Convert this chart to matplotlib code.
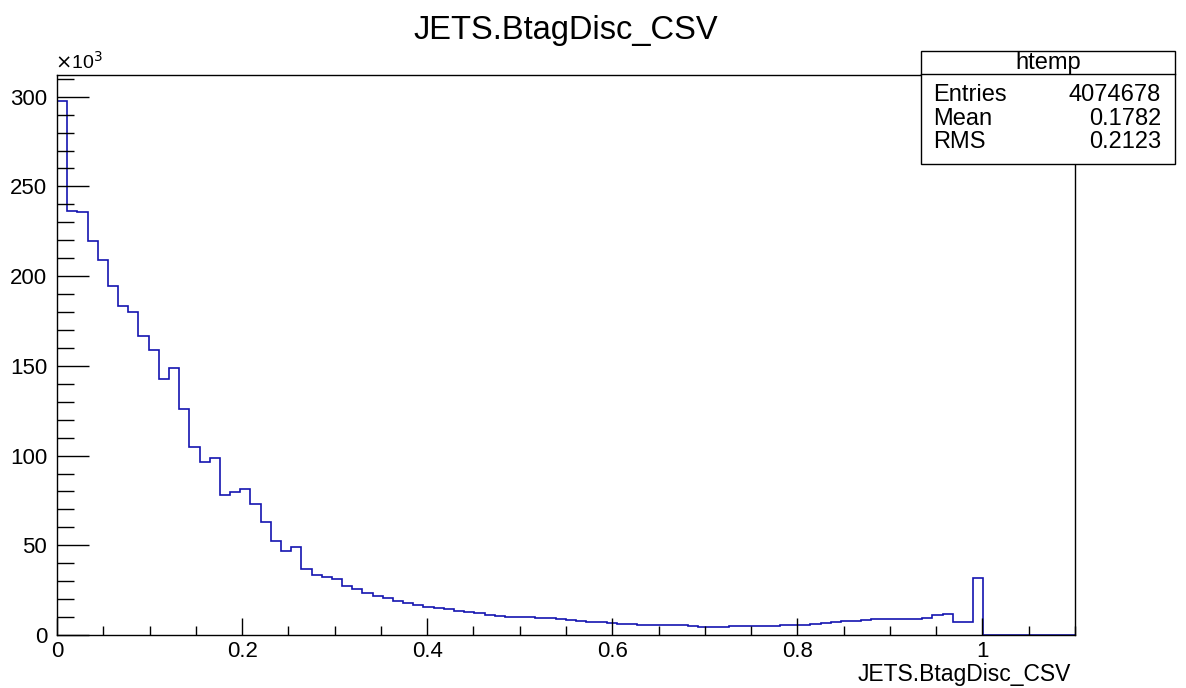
import matplotlib.pyplot as plt
import matplotlib.patches as mpatches
from matplotlib.ticker import MultipleLocator
import numpy as np

plt.rcParams['font.family'] = ['Liberation Sans', 'DejaVu Sans']

# histogram htemp: 100 bins from 0 to 1.1, counts in thousands
x_min, x_max, n_bins = 0.0, 1.1, 100
counts = [
    297.8, 236.3, 235.6, 219.6, 208.9, 194.4, 183.2, 179.9, 166.6, 158.8,
    142.5, 148.6, 125.7, 105.0, 96.5, 98.9, 78.2, 79.7, 81.4, 72.8,
    62.7, 52.5, 46.9, 49.0, 36.9, 33.5, 32.6, 31.3, 27.4, 25.7,
    23.5, 21.8, 20.7, 19.0, 17.9, 16.8, 15.6, 15.1, 14.5, 13.4,
    12.8, 12.3, 11.2, 10.6, 10.1, 10.0, 9.8, 9.5, 9.5, 8.9,
    8.4, 7.8, 7.3, 7.3, 6.7, 6.0, 6.0, 5.5, 5.4, 5.3,
    5.3, 5.3, 4.8, 4.4, 4.3, 4.3, 4.8, 4.8, 4.9, 4.9,
    5.0, 5.4, 5.4, 5.5, 6.0, 6.5, 7.1, 7.6, 7.7, 8.2,
    8.8, 8.8, 8.8, 8.9, 8.9, 9.3, 11.0, 11.7, 7.3, 7.3,
    31.7, 0, 0, 0, 0, 0, 0, 0, 0, 0,
]
x_ticks = [0, 0.2, 0.4, 0.6, 0.8, 1.0]
x_tick_labels = ['0', '0.2', '0.4', '0.6', '0.8', '1']
y_ticks = [0, 50, 100, 150, 200, 250, 300]

hist_name = 'htemp'
var_name = 'JETS.BtagDisc_CSV'
stats = [('Entries', '4074678'), ('Mean', '0.1782'), ('RMS', '0.2123')]

W, H = 1186, 688
fig = plt.figure(figsize=(W / 100, H / 100), dpi=100)
fig.patch.set_facecolor('white')

# axes frame in pixels: left 57, right 1075, top 75, bottom 635
ax = fig.add_axes([57 / W, 1 - 635 / H, (1075 - 57) / W, (635 - 75) / H])

edges = np.linspace(x_min, x_max, n_bins + 1)
ax.stairs(counts, edges, color='#1414b0', linewidth=1.2)

ax.set_xlim(x_min, x_max)
ax.set_ylim(0, 312.1)

ax.set_xticks(x_ticks)
ax.set_xticklabels(x_tick_labels)
ax.xaxis.set_minor_locator(MultipleLocator(0.05))
ax.set_yticks(y_ticks)
ax.yaxis.set_minor_locator(MultipleLocator(10))

ax.tick_params(axis='x', which='major', direction='in', length=12, width=1, labelsize=16, pad=4)
ax.tick_params(axis='x', which='minor', direction='in', length=6.5, width=1)
ax.tick_params(axis='y', which='major', direction='in', length=23, width=1, labelsize=16, pad=7)
ax.tick_params(axis='y', which='minor', direction='in', length=12, width=1)
ax.tick_params(top=False, right=False, which='both')

for sp in ax.spines.values():
    sp.set_linewidth(1)
    sp.set_color('black')
    sp.set_zorder(3)

# exponent label
fig.text(55 / W, 1 - 73 / H, r'$\times$10$^{3}$', fontsize=14, ha='left', va='bottom')

# title and x-axis label
fig.text(566 / W, 1 - 31 / H, var_name, fontsize=23.5, ha='center', va='center')
fig.text(1071 / W, 1 - 675 / H, var_name, fontsize=16.5, ha='right', va='center')

# stats box
bx0, bx1, by0, by1 = 921, 1175, 51, 164
box = mpatches.Rectangle((bx0 / W, 1 - by1 / H), (bx1 - bx0) / W, (by1 - by0) / H,
                         transform=fig.transFigure, facecolor='white',
                         edgecolor='black', linewidth=1, zorder=5)
fig.add_artist(box)
fig.add_artist(plt.Line2D([bx0 / W, bx1 / W], [1 - 74 / H, 1 - 74 / H],
                          transform=fig.transFigure, color='black', linewidth=1, zorder=6))
fig.text((bx0 + bx1) / 2 / W, 1 - 63 / H, hist_name, fontsize=17, ha='center', va='center', zorder=7)
row_y = [95, 119, 142]
for (lab, val), yy in zip(stats, row_y):
    fig.text(933 / W, 1 - yy / H, lab, fontsize=17, ha='left', va='center', zorder=7)
    fig.text(1161 / W, 1 - yy / H, val, fontsize=17, ha='right', va='center', zorder=7)

fig.savefig('out.png', dpi=100)
